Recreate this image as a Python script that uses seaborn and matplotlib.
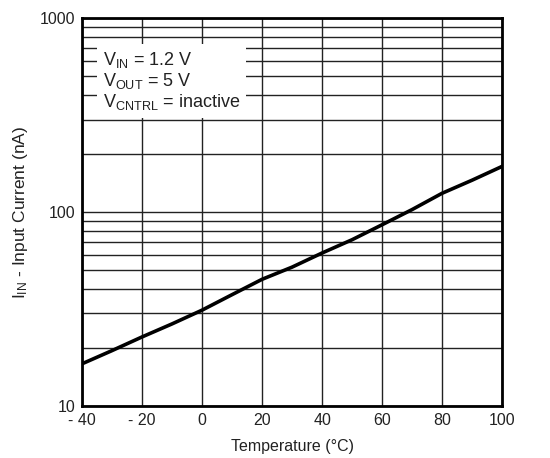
import matplotlib
matplotlib.use("Agg")
import matplotlib.pyplot as plt
import seaborn as sns
import pandas as pd
from matplotlib.ticker import FixedLocator, FixedFormatter, NullFormatter, LogLocator

# values
temperature = [-40, -30, -20, -10, 0, 10, 20, 30, 40, 50, 60, 70, 80, 90, 100]
input_current = [16.5, 19.3, 22.7, 26.5, 31.2, 37.5, 45.0, 52.0, 61.5, 72.0, 86.0, 103.0, 125.0, 146.0, 172.0]
x_ticks = [-40, -20, 0, 20, 40, 60, 80, 100]
x_tick_labels = ["- 40", "- 20", "0", "20", "40", "60", "80", "100"]
y_ticks = [10, 100, 1000]
y_tick_labels = ["10", "100", "1000"]

sns.set_style("white")
plt.rcParams['font.family'] = ['Liberation Sans', 'DejaVu Sans']
plt.rcParams['mathtext.fontset'] = 'custom'
plt.rcParams['mathtext.rm'] = 'Liberation Sans'
plt.rcParams['mathtext.it'] = 'Liberation Sans'

df = pd.DataFrame({'temp': temperature, 'current': input_current})

fig = plt.figure(figsize=(5.5, 4.58), dpi=100)
ax = fig.add_axes([0.149, 0.1135, 0.764, 0.847])

sns.lineplot(data=df, x='temp', y='current', color='black', linewidth=2.6, ax=ax, zorder=4)

ax.set_yscale('log')
ax.set_xlim(-40, 100)
ax.set_ylim(10, 1000)

ax.xaxis.set_major_locator(FixedLocator(x_ticks))
ax.xaxis.set_major_formatter(FixedFormatter(x_tick_labels))
ax.yaxis.set_major_locator(FixedLocator(y_ticks))
ax.yaxis.set_major_formatter(FixedFormatter(y_tick_labels))
ax.yaxis.set_minor_locator(LogLocator(base=10, subs=range(2, 10)))
ax.yaxis.set_minor_formatter(NullFormatter())

ax.grid(True, which='major', axis='both', color='#222222', linewidth=1.0)
ax.grid(True, which='minor', axis='y', color='#222222', linewidth=1.0)
ax.tick_params(which='both', length=0, labelsize=11.5, pad=5, colors='#222222')

for s in ax.spines.values():
    s.set_linewidth(2.0)
    s.set_color('black')

ax.set_xlabel('Temperature (°C)', fontsize=11.5, color='#222222', labelpad=8)
ax.set_ylabel(r'I$_{\mathrm{IN}}$ - Input Current (nA)', fontsize=12.5, color='#222222', labelpad=7)

ax.text(0.05, 0.918,
        'V$_{\\mathrm{IN}}$ = 1.2 V\nV$_{\\mathrm{OUT}}$ = 5 V\nV$_{\\mathrm{CNTRL}}$ = inactive',
        transform=ax.transAxes,
        fontsize=13, color='#222222', va='top', ha='left', linespacing=1.08,
        bbox=dict(facecolor='white', edgecolor='none', pad=4), zorder=5)

plt.savefig('out.png', dpi=100)
